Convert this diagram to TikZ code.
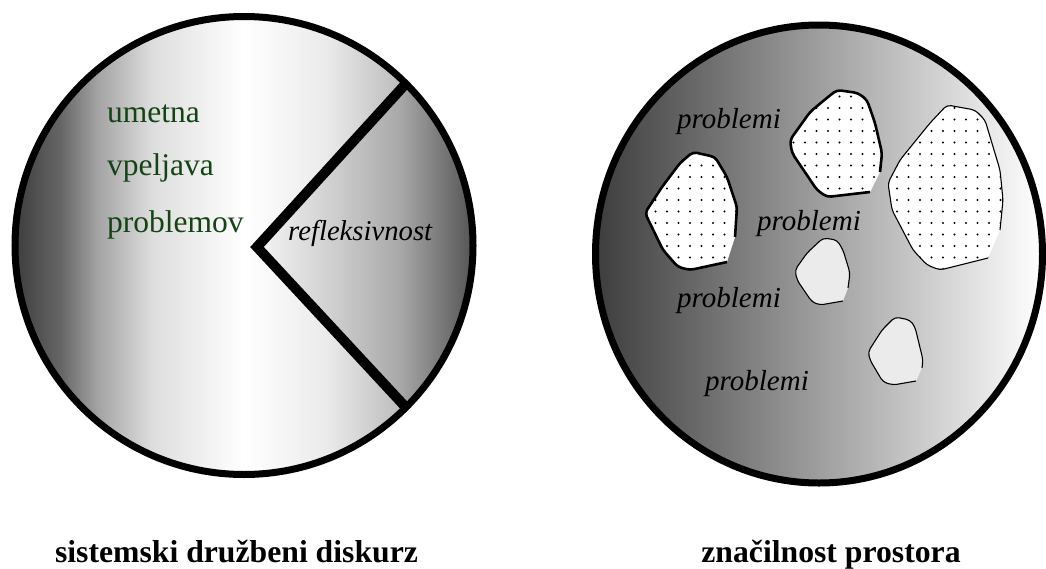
\documentclass[tikz,border=0pt]{standalone}
\usepackage{fontspec}
\setmainfont{Liberation Serif}
\usetikzlibrary{patterns.meta}

\definecolor{leafgreen}{RGB}{20,68,20}

% horizontal shadings: 25bp..75bp is the path's width
\pgfdeclarehorizontalshading{leftdisk}{100bp}{color(0bp)=(black!76); color(25bp)=(black!76);
  color(30bp)=(black!60); color(34bp)=(black!36); color(40bp)=(black!13); color(50bp)=(white);
  color(59bp)=(black!8); color(67bp)=(black!26); color(75bp)=(black!45); color(100bp)=(black!45)}
\pgfdeclarehorizontalshading{wedgeshade}{100bp}{color(0bp)=(black!4); color(25bp)=(black!4);
  color(40bp)=(black!18); color(55bp)=(black!34); color(68bp)=(black!62); color(75bp)=(black!78);
  color(100bp)=(black!78)}

\begin{document}
\begin{tikzpicture}[x=1pt, y=-1pt,
    greenword/.style={anchor=base west, inner sep=0pt, text=leafgreen, font=\fontsize{31.5}{36}\selectfont},
    probword/.style={anchor=base west, inner sep=0pt, font=\fontsize{29}{34}\selectfont\itshape},
    caption/.style={anchor=base, inner sep=0pt, font=\fontsize{31.7}{36}\selectfont\bfseries},
    rim/.style={line width=7pt},
    bigblob/.style={line width=2.6pt, rounded corners=4pt, preaction={fill=white},
                    pattern={Dots[distance=11.5pt, radius=1.1pt]}},
    wideblob/.style={line width=1.1pt, rounded corners=4pt, preaction={fill=white},
                     pattern={Dots[distance=11.5pt, radius=1.1pt]}},
    smallblob/.style={line width=1.1pt, rounded corners=4pt, preaction={fill=black!6},
                      pattern={Dots[distance=2pt, radius=0.45pt]}, pattern color=black!28}
  ]
  \useasboundingbox (0,0) rectangle (1046,568);

  % left disk
  \coordinate (lc) at (244,245.5);
  \shade[shading=leftdisk] (lc) circle[radius=229];
  \shade[shading=wedgeshade] (257,247) -- (405.9,83.6) arc[start angle=-45, end angle=45, radius=229] -- cycle;
  \draw[rim] (lc) circle[radius=229];
  \draw[line width=10pt] (405.9,83.6) -- (257,247) -- (405.9,407.4);

  \node[greenword] (umetna) at (107,122) {umetna};
  \node[greenword] (vpeljava) at (107,175.5) {vpeljava};
  \node[greenword] (problemov) at (107,232) {problemov};
  \node[anchor=base west, inner sep=0pt, font=\fontsize{28.7}{33}\selectfont\itshape] (refl) at (288,240) {refleksivnost};

  % right disk
  \coordinate (rc) at (819,254);
  \shade[left color=black!76, middle color=black!28, right color=white] (rc) ellipse[x radius=223.5, y radius=229];
  \draw[rim] (rc) ellipse[x radius=223.5, y radius=229];

  \draw[bigblob] (727,262) -- (690,270) -- (678,267) -- (663,250) -- (645,213) -- (662,187) -- (680,163)
    -- (693,152) -- (715,157) -- (727,177) -- (737,207) -- (735,237);
  \draw[bigblob] (870,192) -- (827,197) -- (817,190) -- (792,153) -- (790,140) -- (810,112) -- (828,97)
    -- (837,90) -- (858,93) -- (867,100) -- (875,123) -- (882,153) -- (880,172);
  \draw[wideblob] (988,258) -- (940,270) -- (927,265) -- (913,250) -- (892,210) -- (888,183) -- (900,160)
    -- (930,123) -- (947,105) -- (975,110) -- (985,120) -- (1000,170) -- (1003,200) -- (1000,230);
  \draw[smallblob] (843,301) -- (820,305) -- (812,302) -- (797,280) -- (795,270) -- (807,253) -- (823,238)
    -- (837,240) -- (843,250) -- (850,273) -- (848,288);
  \draw[smallblob] (916,381) -- (893,385) -- (883,382) -- (870,360) -- (868,352) -- (882,330) -- (895,317)
    -- (910,320) -- (915,327) -- (923,360) -- (922,368);

  \node[probword] (prob1) at (677,128) {problemi};
  \node[probword] (prob2) at (757,230) {problemi};
  \node[probword] (prob3) at (677,307) {problemi};
  \node[probword] (prob4) at (705,390) {problemi};

  % captions
  \node[caption] (capleft) at (236.5,562.5) {sistemski družbeni diskurz};
  \node[caption] (capright) at (831,562.5) {značilnost prostora};
\end{tikzpicture}
\end{document}
